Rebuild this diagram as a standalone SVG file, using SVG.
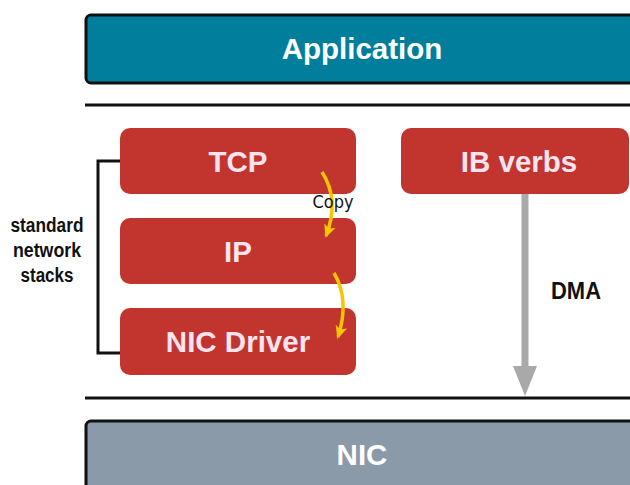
<svg xmlns="http://www.w3.org/2000/svg" width="630" height="485" viewBox="0 0 630 485">
  <style>
    .layer { font-family: "Liberation Sans", Arial, sans-serif; font-weight: bold; font-size: 29.5px; fill: #ffffff; text-anchor: middle; }
    .block { fill: #c1352e; }
    .blabel { font-family: "Liberation Sans", Arial, sans-serif; font-weight: bold; font-size: 29.5px; fill: #fde4ef; text-anchor: middle; }
    .side { font-family: "Liberation Sans", Arial, sans-serif; font-weight: bold; font-size: 20px; fill: #111; text-anchor: middle; }
    .rule { stroke: #111; stroke-width: 3; fill: none; }
    .copy { stroke: #f7c600; stroke-width: 3.5; fill: none; }
  </style>
  <defs>
    <marker id="ya" markerWidth="14" markerHeight="14" refX="11" refY="7" orient="auto" markerUnits="userSpaceOnUse" viewBox="0 0 14 14">
      <path d="M0,1 L13,7 L0,13 L3,7 Z" fill="#f7c600"/>
    </marker>
  </defs>
  <rect width="630" height="485" fill="#ffffff"/>

  <g id="application">
    <rect x="86" y="15" width="570" height="68" rx="5" fill="#007e9c" stroke="#111" stroke-width="3"/>
    <text class="layer" x="362" y="59">Application</text>
  </g>

  <line class="rule" x1="85" y1="105" x2="630" y2="105"/>
  <line class="rule" x1="85" y1="398" x2="630" y2="398"/>

  <g id="tcp">
    <rect class="block" x="120" y="128" width="236" height="66" rx="10"/>
    <text class="blabel" x="238" y="172">TCP</text>
  </g>
  <g id="ip">
    <rect class="block" x="120" y="218" width="236" height="66" rx="10"/>
    <text class="blabel" x="238" y="262">IP</text>
  </g>
  <g id="nic-driver">
    <rect class="block" x="120" y="308" width="236" height="67" rx="10"/>
    <text class="blabel" x="238" y="352">NIC Driver</text>
  </g>
  <g id="ib-verbs">
    <rect class="block" x="401" y="128" width="228" height="66" rx="10"/>
    <text class="blabel" x="519" y="172">IB verbs</text>
  </g>

  <g id="nic">
    <rect x="86" y="421" width="570" height="90" rx="5" fill="#8a9aa8" stroke="#111" stroke-width="3"/>
    <text class="layer" x="362" y="465">NIC</text>
  </g>

  <g id="stack-label">
    <path class="rule" d="M120,161 H98 V353 H120"/>
    <text class="side" x="47" y="232" textLength="73" lengthAdjust="spacingAndGlyphs">standard</text>
    <text class="side" x="47" y="257" textLength="68" lengthAdjust="spacingAndGlyphs">network</text>
    <text class="side" x="47" y="282" textLength="53" lengthAdjust="spacingAndGlyphs">stacks</text>
  </g>

  <g id="connectors">
    <path class="copy" d="M322,172 Q340,200 326,236" marker-end="url(#ya)"/>
    <path class="copy" d="M334,273 Q350,300 338,337" marker-end="url(#ya)"/>
    <text x="333" y="208" font-family="'DejaVu Sans', sans-serif" font-size="17" fill="#111" text-anchor="middle" textLength="41" lengthAdjust="spacingAndGlyphs">Copy</text>
    <line x1="525" y1="194" x2="525" y2="372" stroke="#a9a9a9" stroke-width="7"/>
    <polygon points="513,366 537,366 525,396" fill="#a9a9a9"/>
    <text x="576" y="299" font-family="'Liberation Sans', Arial, sans-serif" font-weight="bold" font-size="23" fill="#111" text-anchor="middle" textLength="50" lengthAdjust="spacingAndGlyphs">DMA</text>
  </g>
</svg>
